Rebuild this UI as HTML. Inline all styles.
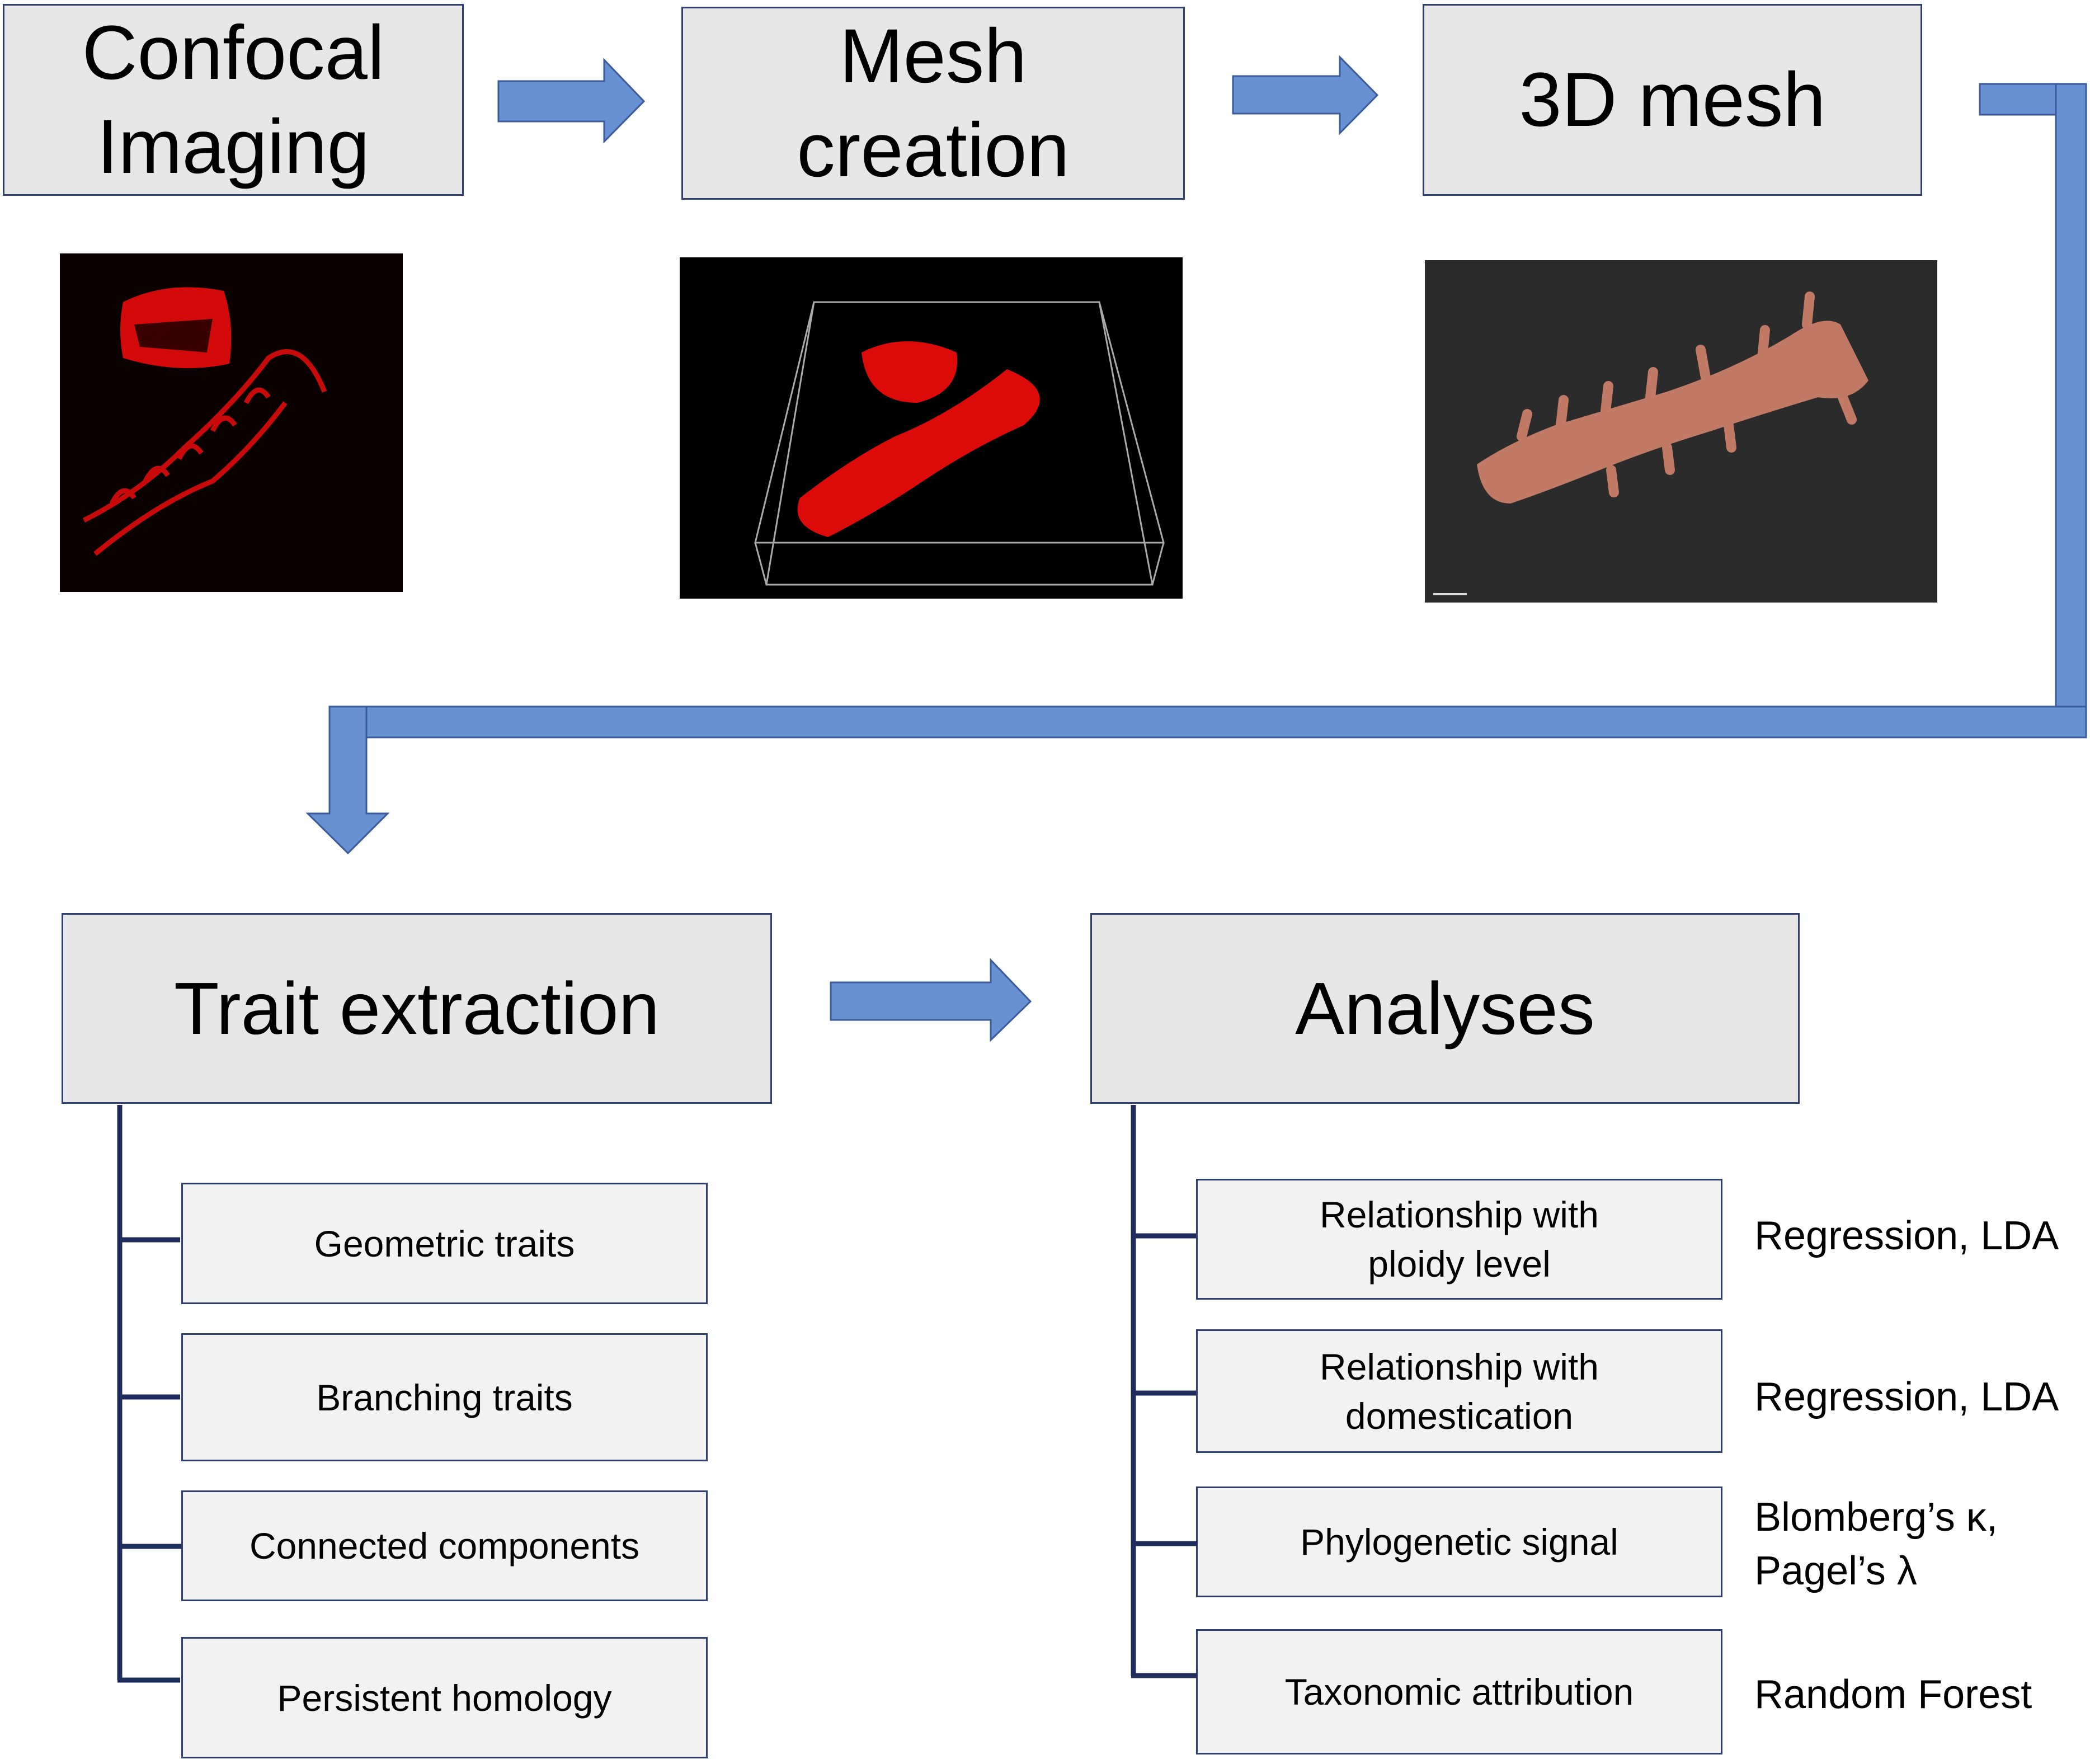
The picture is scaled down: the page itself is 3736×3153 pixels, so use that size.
<!DOCTYPE html>
<html><head><meta charset="utf-8"><style>
html,body{margin:0;padding:0;background:#fff;}
body{width:3736px;height:3153px;position:relative;overflow:hidden;font-family:"Liberation Sans",sans-serif;}
.b{position:absolute;box-sizing:border-box;border:3px solid #2f3f6f;background:#e7e7e7;display:flex;align-items:center;justify-content:center;text-align:center;color:#000;}
.s{background:#f2f2f2;font-size:66px;line-height:88px;}
.t{font-size:137px;line-height:168px;}
.r{position:absolute;left:3136px;font-size:72px;line-height:96px;color:#000;}
</style></head><body>
<div class="b t" style="left:5px;top:7px;width:824px;height:343px;">Confocal<br>Imaging</div>
<div class="b t" style="left:1218px;top:12px;width:900px;height:345px;">Mesh<br>creation</div>
<div class="b t" style="left:2543px;top:7px;width:893px;height:343px;">3D mesh</div>
<div class="b" style="left:110px;top:1632px;width:1270px;height:341px;font-size:132px;">Trait extraction</div>
<div class="b" style="left:1949px;top:1632px;width:1268px;height:341px;font-size:132px;">Analyses</div>

<div class="b s" style="left:324px;top:2114px;width:941px;height:217px;">Geometric traits</div>
<div class="b s" style="left:324px;top:2383px;width:941px;height:229px;">Branching traits</div>
<div class="b s" style="left:324px;top:2664px;width:941px;height:198px;">Connected components</div>
<div class="b s" style="left:324px;top:2926px;width:941px;height:217px;">Persistent homology</div>

<div class="b s" style="left:2138px;top:2107px;width:941px;height:216px;">Relationship with<br>ploidy level</div>
<div class="b s" style="left:2138px;top:2376px;width:941px;height:221px;">Relationship with<br>domestication</div>
<div class="b s" style="left:2138px;top:2657px;width:941px;height:198px;">Phylogenetic signal</div>
<div class="b s" style="left:2138px;top:2912px;width:941px;height:224px;">Taxonomic attribution</div>

<div class="r" style="top:2161px;">Regression, LDA</div>
<div class="r" style="top:2449px;">Regression, LDA</div>
<div class="r" style="top:2664px;">Blomberg’s κ,<br>Pagel’s λ</div>
<div class="r" style="top:2981px;">Random Forest</div>

<svg style="position:absolute;left:0;top:0" width="3736" height="3153">
<g fill="#6891d4" stroke="#3a5a9a" stroke-width="3">
<polygon points="891,145 1080,145 1080,107 1151,181 1080,253 1080,217 891,217"/>
<polygon points="2204,136 2395,136 2395,102 2462,170 2395,238 2395,203 2204,203"/>
<polygon points="1485,1756 1771,1756 1771,1716 1842,1790 1771,1859 1771,1823 1485,1823"/>
<rect x="3539" y="150" width="136" height="55"/>
<rect x="3675" y="150" width="54" height="1168"/>
<rect x="655" y="1263" width="3074" height="55"/>
<polygon points="589,1263 655,1263 655,1454 693,1454 622,1525 550,1454 589,1454"/>
</g>
<g stroke="#1f2d5c" stroke-width="9" fill="none">
<path d="M214,1975 V3003 M210,2216 H322 M210,2497 H322 M210,2764 H324 M210,3003 H322"/>
<path d="M2026,1975 V2995 M2022,2209 H2138 M2022,2490 H2138 M2022,2759 H2140 M2022,2995 H2140"/>
</g>
<!-- image 1 -->
<rect x="107" y="453" width="613" height="605" fill="#0a0000"/>
<path d="M220,540 Q300,500 400,520 Q420,580 410,650 Q320,670 220,640 Q210,590 220,540Z" fill="#d40a0a"/>
<path d="M240,580 L380,570 L370,630 L250,620Z" fill="#3a0000"/>
<g stroke="#c80a0a" stroke-width="9" fill="none">
<path d="M150,930 Q250,880 330,800 Q420,720 480,640 Q540,600 580,700"/>
<path d="M170,990 Q280,900 380,860 Q450,800 510,720"/>
<path d="M200,900 q20,-40 40,-10 M260,860 q20,-40 40,-10 M320,820 q20,-40 40,-10 M380,770 q20,-40 40,-10 M440,720 q20,-40 40,-10"/>
</g>
<!-- image 2 -->
<rect x="1215" y="460" width="899" height="610" fill="#000"/>
<g stroke="#aaa" stroke-width="3" fill="none">
<polygon points="1350,970 2080,970 1965,540 1455,540"/>
<path d="M1350,970 L1370,1045 L2060,1045 L2080,970 M1370,1045 L1455,540 M2060,1045 L1965,540"/>
</g>
<path d="M1540,630 Q1620,590 1710,630 Q1720,700 1640,720 Q1550,720 1540,630Z" fill="#dd0a0a"/>
<path d="M1430,890 Q1520,820 1600,780 Q1700,740 1800,660 Q1900,700 1830,760 Q1740,800 1650,860 Q1560,920 1480,960 Q1410,940 1430,890Z" fill="#dd0a0a"/>
<!-- image 3 -->
<rect x="2547" y="465" width="916" height="612" fill="#2b2b2b"/>
<path d="M2640,830 Q2700,790 2780,760 Q2880,730 2980,700 Q3100,660 3200,600 Q3260,560 3290,580 Q3320,640 3340,680 Q3310,720 3250,710 Q3150,740 3060,770 Q2960,800 2860,840 Q2760,880 2700,900 Q2650,900 2640,830Z" fill="#c07a66"/>
<path d="M2720,780 l10,-40 M2790,760 l5,-45 M2870,735 l5,-45 M2950,710 l5,-45 M3050,680 l-10,-55 M3150,640 l5,-50 M3230,580 l5,-50 M2880,840 l5,40 M2980,800 l5,40 M3090,760 l5,40 M3290,700 l20,50" stroke="#c07a66" stroke-width="18" stroke-linecap="round"/>
<rect x="2562" y="1060" width="60" height="4" fill="#ddd"/>
</svg>
</body></html>
